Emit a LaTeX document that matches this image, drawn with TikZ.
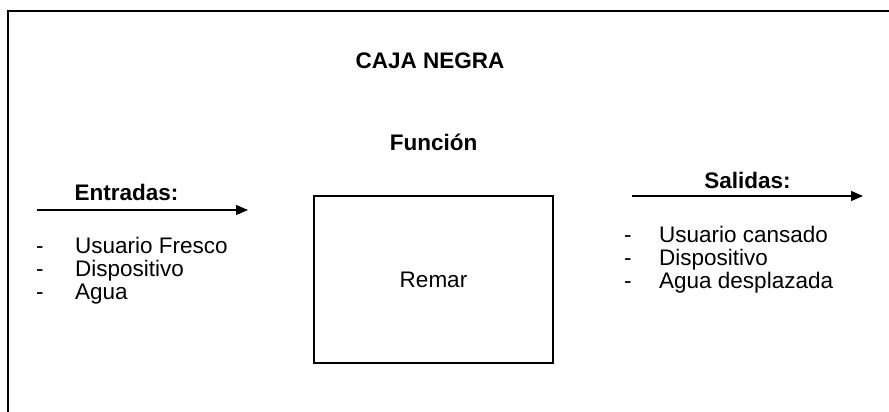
\documentclass[tikz,border=0pt]{standalone}
\usepackage{fontspec}
\setmainfont{Liberation Sans}
\usetikzlibrary{arrows.meta}
\begin{document}
\begin{tikzpicture}[x=1pt,y=-1pt,
  reg/.style={inner sep=0pt, anchor=base west, font=\fontsize{22.5}{26}\selectfont},
  bld/.style={inner sep=0pt, anchor=base, font=\fontsize{22.5}{26}\selectfont\bfseries},
  flow/.style={line width=1.2pt, -{Triangle[length=12pt,width=10pt]}},
  frame/.style={line width=2pt}]
\useasboundingbox[fill=white] (0,0) rectangle (889,412);
% outer frame (open at right and bottom)
\draw[frame] (8,412) -- (8,11) -- (889,11);
% titles
\node[bld] (title) at (430,69) {CAJA NEGRA};
\node[bld] (func) at (433.5,150) {Función};
% black box
\node[draw, line width=2.5pt, minimum width=239pt, minimum height=167pt, inner sep=0pt,
  font=\fontsize{22.5}{26}\selectfont] (box) at (433.5,279.5) {Remar};
% inputs
\node[bld] (ent) at (126.5,200) {Entradas:};
\coordinate (inA) at (37,210);
\coordinate (inB) at (248,210);
\draw[flow] (inA) -- (inB);
\node[reg] (d1) at (36,253) {-};
\node[reg] (d2) at (36,276) {-};
\node[reg] (d3) at (36,299) {-};
\node[reg] (i1) at (75,253) {Usuario Fresco};
\node[reg] (i2) at (75,276) {Dispositivo};
\node[reg] (i3) at (75,299) {Agua};
% outputs
\node[bld] (sal) at (747.5,188) {Salidas:};
\coordinate (outA) at (632,196);
\coordinate (outB) at (863,196);
\draw[flow] (outA) -- (outB);
\node[reg] (e1) at (624,242) {-};
\node[reg] (e2) at (624,265) {-};
\node[reg] (e3) at (624,288) {-};
\node[reg] (o1) at (659,242) {Usuario cansado};
\node[reg] (o2) at (659,265) {Dispositivo};
\node[reg] (o3) at (659,288) {Agua desplazada};
\end{tikzpicture}
\end{document}
